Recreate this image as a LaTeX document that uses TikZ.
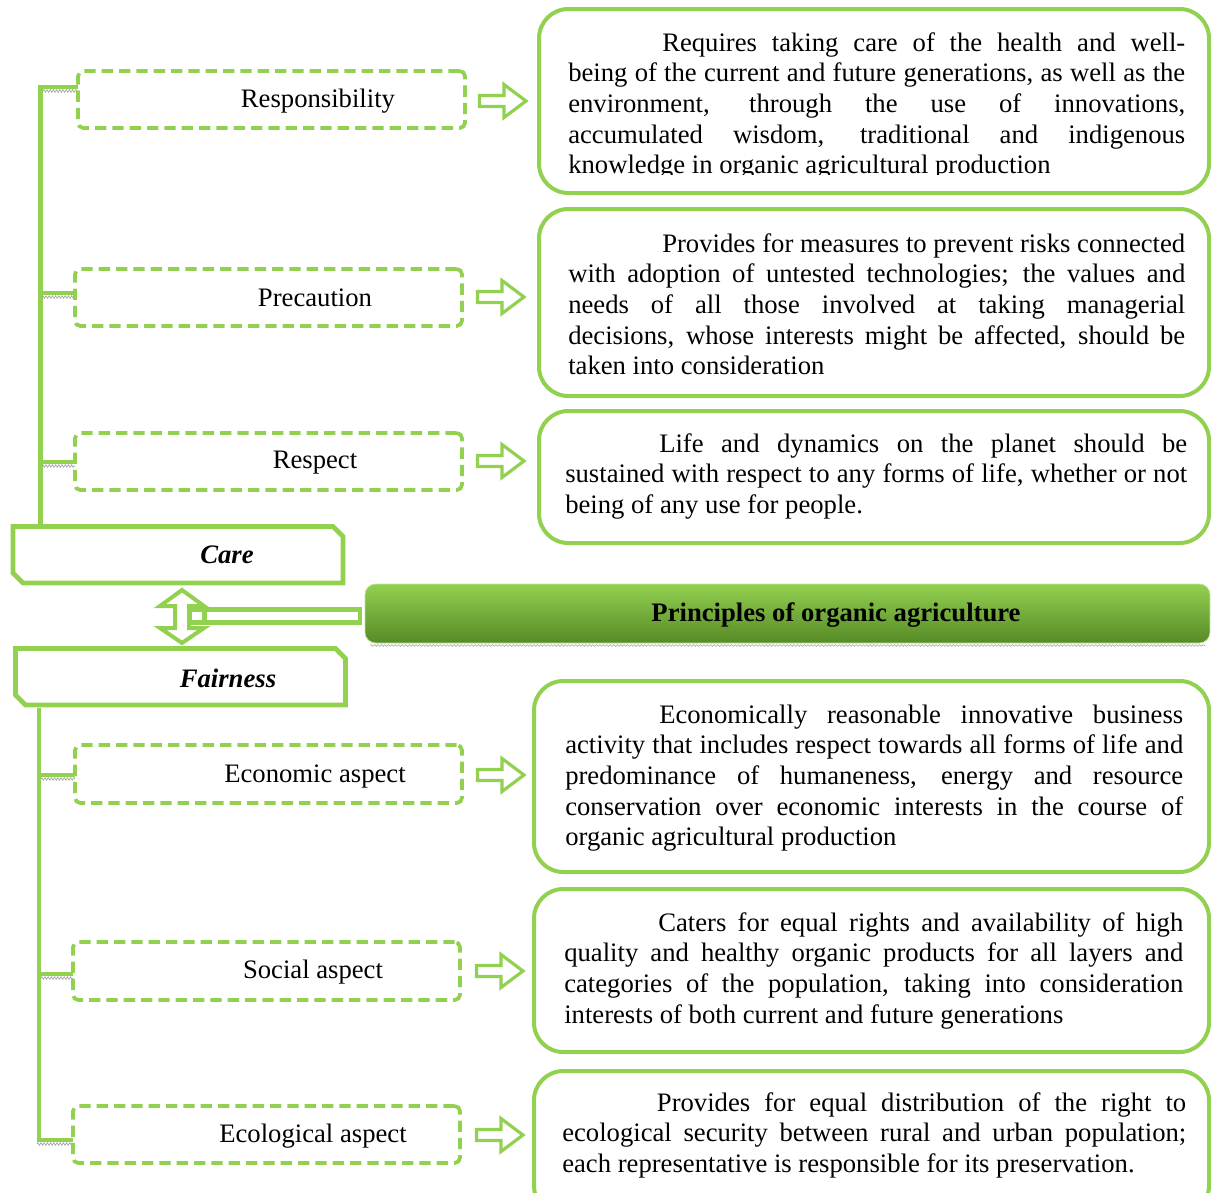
\documentclass[tikz,border=0pt]{standalone}
\usepackage{fontspec}
\setmainfont{Liberation Serif}
\usetikzlibrary{fit,decorations.pathmorphing}
\definecolor{gr}{RGB}{146,208,80}
\definecolor{grd}{RGB}{86,138,38}
\newcommand\jline[2]{\makebox[#1][s]{#2}}
\begin{document}
\begin{tikzpicture}[x=0.75pt,y=-0.75pt,
  every node/.style={font=\fontsize{20pt}{23pt}\selectfont, inner sep=0pt},
  dbox/.style={draw=gr, line width=2.8pt, dash pattern=on 8.5pt off 4.5pt, rounded corners=4pt},
  rbox/.style={draw=gr, line width=3pt, rounded corners=22pt},
  cbox/.style={draw=gr, line width=3.6pt, line join=miter},
  trunk/.style={draw=gr, line width=3.6pt},
  hatch/.style={draw=gray!80, line width=0.4pt, decorate, decoration={zigzag, amplitude=1pt, segment length=2.4pt}},
  harrow/.style={draw=gr, line width=2.4pt, line join=miter, fill=white},
  lbl/.style={anchor=center},
  bl/.style={anchor=center, font=\fontsize{20pt}{23pt}\selectfont\bfseries\itshape}
]
\useasboundingbox (0,0) rectangle (1211,1193);
\clip (0,0) rectangle (1211,1193);

% ---------- left trunk lines ----------
\coordinate (ttop) at (40.5,87);
\coordinate (tbot) at (40.5,527);
\draw[trunk] (tbot) -- (ttop) -- (78,87);
\draw[trunk] (40.5,293) -- (75,293);
\draw[trunk] (40.5,462) -- (75,462);
\draw[hatch] (43,91) -- (78,91);
\draw[hatch] (42,297) -- (75,297);
\draw[hatch] (42,466) -- (75,466);

\coordinate (btop) at (39,708);
\coordinate (bbot) at (39,1140);
\draw[trunk] (btop) -- (bbot) -- (73,1140);
\draw[trunk] (39,775) -- (75,775);
\draw[trunk] (39,974) -- (73,974);
\draw[hatch] (41,779) -- (75,779);
\draw[hatch] (41,978) -- (73,978);
\draw[hatch] (37,1144) -- (73,1144);

% ---------- dashed boxes ----------
\node[dbox, fit={(78,71)(465,128)}] (resp) {};
\node[dbox, fit={(75,269)(462,326)}] (prec) {};
\node[dbox, fit={(75,433)(462,490)}] (rspt) {};
\node[dbox, fit={(75,745)(462,803)}] (econ) {};
\node[dbox, fit={(73,942)(460,1000)}] (soc) {};
\node[dbox, fit={(73,1106)(460,1163)}] (eco) {};
\node[lbl] (respl) at (318,101) {Responsibility};
\node[lbl] (precl) at (315,298) {Precaution};
\node[lbl] (rsptl) at (315,463) {Respect};
\node[lbl] (econl) at (315,776) {Economic aspect};
\node[lbl] (socl) at (313,972) {Social aspect};
\node[lbl] (ecol) at (313,1136) {Ecological aspect};

% ---------- hollow arrows ----------
\foreach \ax/\ay in {478/101, 476/297, 476/461, 476/775, 475/971, 475/1135}{
  \draw[harrow, shift={(\ax,\ay)}] (1.5,-5.5) -- (26,-5.5) -- (26,-16.5) -- (48,0) -- (26,16.5) -- (26,5.5) -- (1.5,5.5) -- cycle;
}

% ---------- right boxes ----------
\node[rbox, fit={(539,9)(1209,193)}] (d1) {};
\node[rbox, fit={(539,209)(1209,396)}] (d2) {};
\node[rbox, fit={(539,411)(1209,543)}] (d3) {};
\node[rbox, fit={(534,681)(1209,872)}] (d4) {};
\node[rbox, fit={(534,889)(1209,1052)}] (d5) {};
\node[rbox, fit={(534,1071)(1209,1215)}] (d6) {};

\begin{scope}
\clip (540,10) rectangle (1205,174);
\node[anchor=base west] (t1) at (568,51) {\parbox[t]{462.75pt}{%
\jline{462.75pt}{\hspace*{70.5pt}Requires taking care of the health and well-}\\
\jline{462.75pt}{being of the current and future generations, as well as the}\\
\jline{462.75pt}{environment, through the use of innovations,}\\
\jline{462.75pt}{accumulated wisdom, traditional and indigenous}\\
knowledge in organic agricultural production}};
\end{scope}

\node[anchor=base west] (t2) at (568,252) {\parbox[t]{462.75pt}{%
\jline{462.75pt}{\hspace*{70.5pt}Provides for measures to prevent risks connected}\\
\jline{462.75pt}{with adoption of untested technologies; the values and}\\
\jline{462.75pt}{needs of all those involved at taking managerial}\\
\jline{462.75pt}{decisions, whose interests might be affected, should be}\\
taken into consideration}};

\node[anchor=base west] (t3) at (565,452) {\parbox[t]{466.5pt}{%
\jline{466.5pt}{\hspace*{70.5pt}Life and dynamics on the planet should be}\\
\jline{466.5pt}{sustained with respect to any forms of life, whether or not}\\
being of any use for people.}};

\node[anchor=base west] (t4) at (565,723) {\parbox[t]{463.5pt}{%
\jline{463.5pt}{\hspace*{70.5pt}Economically reasonable innovative business}\\
\jline{463.5pt}{activity that includes respect towards all forms of life and}\\
\jline{463.5pt}{predominance of humaneness, energy and resource}\\
\jline{463.5pt}{conservation over economic interests in the course of}\\
organic agricultural production}};

\node[anchor=base west] (t5) at (564,931) {\parbox[t]{464.25pt}{%
\jline{464.25pt}{\hspace*{70.5pt}Caters for equal rights and availability of high}\\
\jline{464.25pt}{quality and healthy organic products for all layers and}\\
\jline{464.25pt}{categories of the population, taking into consideration}\\
interests of both current and future generations}};

\node[anchor=base west] (t6) at (562,1111) {\parbox[t]{468pt}{%
\jline{468pt}{\hspace*{71pt}Provides for equal distribution of the right to}\\
\jline{468pt}{ecological security between rural and urban population;}\\
each representative is responsible for its preservation.}};

% ---------- Care / Fairness ----------
\draw[cbox] (13,526.5) -- (333,526.5) -- (343,536.5) -- (343,583) -- (23,583) -- (13,573) -- cycle;
\node[bl] (care) at (227,555) {Care};
\draw[cbox] (15.5,648.5) -- (335.5,648.5) -- (345.5,658.5) -- (345.5,705) -- (25.5,705) -- (15.5,695) -- cycle;
\node[bl] (fair) at (228,678) {Fairness};

% ---------- double arrow and bar ----------
\draw[harrow, line width=3pt] (182,590) -- (204,606) -- (189,606) -- (189,628) -- (204,628) -- (182,643) -- (160,628) -- (175,628) -- (175,606) -- (160,606) -- cycle;
\draw[draw=gr, line width=3.6pt] (190,609.5) rectangle (360,622.5);
\draw[draw=gr, line width=3.6pt] (204.5,609.5) -- (204.5,622.5);

% ---------- principles bar ----------
\draw[draw=gray!70, line width=0.4pt, decorate, decoration={snake, amplitude=0.7pt, segment length=2.6pt}] (370,645.5) -- (1205,645.5);
\node[rounded corners=8pt, top color=gr, bottom color=grd, draw=gr!60!white, line width=0.6pt, fit={(365,584)(1210,643)}] (prin) {};
\node[anchor=center, font=\fontsize{20pt}{23pt}\selectfont\bfseries] (prinl) at (836,615) {Principles of organic agriculture};
\end{tikzpicture}
\end{document}
